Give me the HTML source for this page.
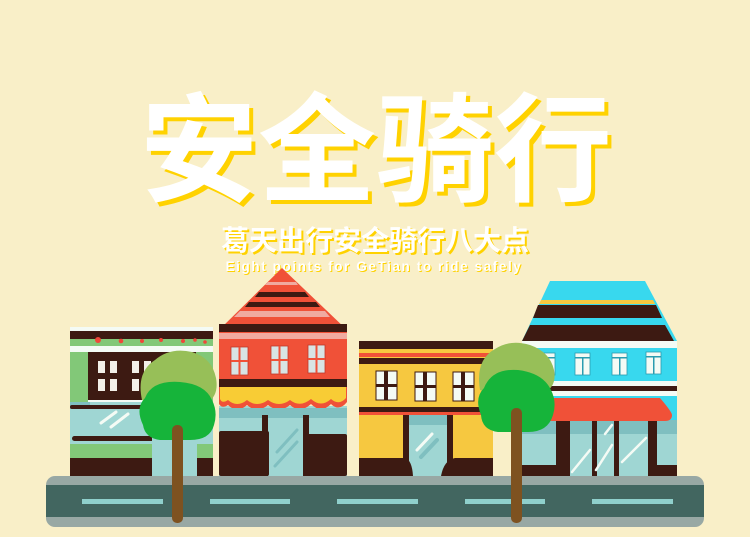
<!DOCTYPE html>
<html><head><meta charset="utf-8">
<style>
html,body{margin:0;padding:0;background:#f9efc8;}
#wrap{position:relative;width:750px;height:537px;overflow:hidden;background:#f9efc8;}
svg{position:absolute;left:0;top:0;}
.t{font-family:"Liberation Sans","Noto Sans CJK SC",sans-serif;font-weight:bold;}
</style></head>
<body>
<div id="wrap">
<svg width="750" height="537" viewBox="0 0 750 537">
  <g class="t" font-size="118" text-anchor="middle">
    <text x="380" y="196" fill="#ffd200">安全骑行</text>
    <text x="376" y="192" fill="#ffffff">安全骑行</text>
  </g>
  <g class="t" font-size="28" text-anchor="middle">
    <text x="377" y="252" fill="#ffd200">葛天出行安全骑行八大点</text>
    <text x="375" y="250" fill="#ffffff">葛天出行安全骑行八大点</text>
  </g>
  <g class="t" font-size="13.5" text-anchor="middle" letter-spacing="1.6">
    <text x="375" y="272" fill="#ffd200">Eight points for GeTian to ride safely</text>
    <text x="374" y="271" fill="#ffffff">Eight points for GeTian to ride safely</text>
  </g>

  <g>
    <rect x="70" y="327" width="143" height="149" fill="#82c878"/>
    <rect x="70" y="327" width="143" height="4" fill="#f4fbf5"/>
    <rect x="70" y="331" width="143" height="8" fill="#3d1a12"/>
    <rect x="70" y="346" width="143" height="6" fill="#f4fbf5"/>
    <g fill="#f0473a">
      <circle cx="98" cy="340" r="3"/><circle cx="121" cy="341" r="2.3"/><circle cx="142" cy="341" r="2"/>
      <circle cx="161" cy="340" r="2"/><circle cx="183" cy="341" r="2"/><circle cx="195" cy="340" r="1.8"/><circle cx="205" cy="342" r="1.8"/>
    </g>
    <rect x="88" y="352" width="108" height="50" fill="#3d1a12"/>
    <g fill="#f3efe8">
      <rect x="98" y="361" width="7" height="12"/><rect x="110" y="361" width="7" height="12"/>
      <rect x="132" y="361" width="7" height="12"/><rect x="144" y="361" width="7" height="12"/>
      <rect x="98" y="379" width="7" height="12"/><rect x="110" y="379" width="7" height="12"/>
      <rect x="132" y="379" width="7" height="12"/><rect x="144" y="379" width="7" height="12"/>
    </g>
    <rect x="88" y="400" width="110" height="5" fill="#f4fbf5"/>
    <rect x="70" y="402" width="143" height="42" fill="#9fd6d3"/>
    <rect x="70" y="402" width="20" height="7" fill="#7fbfc0"/>
    <rect x="70" y="405" width="125" height="4" rx="2" fill="#3d1a12"/>
    <line x1="101" y1="423" x2="116" y2="412" stroke="#f4fbf5" stroke-width="3" stroke-linecap="round"/>
    <line x1="111" y1="427" x2="128" y2="414" stroke="#f4fbf5" stroke-width="3" stroke-linecap="round"/>
    <rect x="72" y="436" width="88" height="5" rx="2.5" fill="#3d1a12"/>
    <rect x="152" y="428" width="45" height="48" fill="#9fd6d3"/>
    <rect x="70" y="458" width="82" height="18" fill="#3d1a12"/>
    <rect x="197" y="458" width="16" height="18" fill="#3d1a12"/>
  </g>

  <g>
    <polygon points="282,268 347,330 219,330" fill="#f05138"/>
    <polygon points="268,282 296,282 298,285 265,285" fill="#f0aaa0"/>
    <polygon points="259,292 305,292 309,297 255,297" fill="#3d1a12"/>
    <polygon points="249,302 316,302 320,307 245,307" fill="#3d1a12"/>
    <polygon points="240,311 325,311 330,317 234,317" fill="#f0aaa0"/>
    <rect x="219" y="324" width="128" height="62" fill="#f05138"/>
    <rect x="219" y="324" width="128" height="8" fill="#3d1a12"/>
    <rect x="219" y="333" width="128" height="6" fill="#f0aaa0"/>
    <g fill="#d8e4e4" stroke="#c0392b" stroke-width="0.8">
      <rect x="231" y="347" width="17" height="28"/>
      <rect x="271" y="346" width="17" height="28"/>
      <rect x="308" y="345" width="17" height="28"/>
    </g>
    <g fill="#f05138">
      <rect x="238.5" y="347" width="2" height="28"/><rect x="231" y="360" width="17" height="2"/>
      <rect x="278.5" y="346" width="2" height="28"/><rect x="271" y="359" width="17" height="2"/>
      <rect x="315.5" y="345" width="2" height="28"/><rect x="308" y="358" width="17" height="2"/>
    </g>
    <rect x="219" y="379" width="128" height="8" fill="#3d1a12"/>
    <rect x="219" y="406" width="128" height="70" fill="#9fd6d3"/>
    <path d="M219,387 H347 V402 Q339,412 331,404 Q321,414 311,404 Q300,414 290,405 Q279,414 268,405 Q257,414 247,405 Q237,414 228,405 Q222,409 219,404 Z" fill="#f05138"/>
    <path d="M220,387 H346 V398 Q339,406 331,399 Q321,408 311,399 Q300,408 290,400 Q279,408 268,400 Q257,408 247,400 Q237,408 228,400 Q222,404 220,399 Z" fill="#f8cc35"/>
    <rect x="219" y="408" width="128" height="10" fill="#7fbfc0"/>
    <rect x="219" y="431" width="50" height="45" rx="2" fill="#3d1a12"/>
    <rect x="262" y="415" width="6" height="61" fill="#3d1a12"/>
    <rect x="303" y="415" width="6" height="61" fill="#3d1a12"/>
    <rect x="304" y="434" width="43" height="42" rx="2" fill="#3d1a12"/>
    <line x1="277" y1="452" x2="297" y2="430" stroke="#7fbfc0" stroke-width="3" stroke-linecap="round"/>
    <line x1="275" y1="466" x2="297" y2="442" stroke="#7fbfc0" stroke-width="3" stroke-linecap="round"/>
  </g>

  <g>
    <rect x="359" y="341" width="134" height="135" fill="#f6c840"/>
    <rect x="359" y="341" width="134" height="8" fill="#3d1a12"/>
    <rect x="359" y="353" width="134" height="4" fill="#f05138"/>
    <rect x="359" y="358" width="134" height="6" fill="#3d1a12"/>
    <g fill="#f4fbf5" stroke="#3d1a12" stroke-width="1">
      <rect x="376" y="371" width="21" height="29"/>
      <rect x="415" y="372" width="21" height="29"/>
      <rect x="453" y="372" width="21" height="29"/>
    </g>
    <g fill="#3d1a12">
      <rect x="384" y="371" width="4" height="29"/><rect x="376" y="384" width="21" height="3"/>
      <rect x="423" y="372" width="4" height="29"/><rect x="415" y="385" width="21" height="3"/>
      <rect x="461" y="372" width="4" height="29"/><rect x="453" y="385" width="21" height="3"/>
    </g>
    <rect x="359" y="407" width="134" height="5" fill="#3d1a12"/>
    <rect x="359" y="412" width="134" height="3" fill="#f05138"/>
    <rect x="408" y="415" width="39" height="61" fill="#9fd6d3"/>
    <rect x="408" y="415" width="39" height="10" fill="#7fbfc0"/>
    <rect x="403" y="415" width="6" height="50" fill="#3d1a12"/>
    <rect x="447" y="415" width="6" height="50" fill="#3d1a12"/>
    <line x1="417" y1="450" x2="432" y2="434" stroke="#f4fbf5" stroke-width="3" stroke-linecap="round"/>
    <line x1="421" y1="457" x2="437" y2="440" stroke="#7fbfc0" stroke-width="4" stroke-linecap="round"/>
    <path d="M359,458 H405 Q412,460 413,476 H359 Z" fill="#3d1a12"/>
    <path d="M493,458 H455 Q444,460 441,476 H493 Z" fill="#3d1a12"/>
  </g>

  <g>
    <polygon points="550,281 645,281 677,341 522,341" fill="#38d8ee"/>
    <polygon points="541,300 653,300 655,304 539,304" fill="#f6c840"/>
    <polygon points="538,305 656,305 662,318 533,318" fill="#3d1a12"/>
    <polygon points="530,325 665,325 674,341 522,341" fill="#3d1a12"/>
    <rect x="522" y="341" width="155" height="135" fill="#38d8ee"/>
    <rect x="522" y="341" width="155" height="7" fill="#f4fbf5"/>
    <g fill="#f4fbf5" stroke="#2a9cb0" stroke-width="0.8">
      <rect x="540" y="353" width="15" height="22"/><rect x="575" y="353" width="15" height="22"/>
      <rect x="612" y="353" width="15" height="22"/><rect x="646" y="352" width="15" height="22"/>
    </g>
    <g fill="#2a9cb0">
      <rect x="540" y="357" width="15" height="1.5"/><rect x="575" y="357" width="15" height="1.5"/>
      <rect x="612" y="357" width="15" height="1.5"/><rect x="646" y="356" width="15" height="1.5"/>
      <rect x="547" y="358" width="1.5" height="17"/><rect x="582" y="358" width="1.5" height="17"/>
      <rect x="619" y="358" width="1.5" height="17"/><rect x="653" y="357" width="1.5" height="17"/>
    </g>
    <rect x="522" y="381" width="155" height="5" fill="#f4fbf5"/>
    <rect x="522" y="386" width="155" height="5" fill="#3d1a12"/>
    <rect x="522" y="391" width="155" height="5" fill="#f4fbf5"/>
    <rect x="522" y="420" width="155" height="56" fill="#9fd6d3"/>
    <rect x="522" y="420" width="155" height="14" fill="#7fbfc0"/>
    <path d="M545,398 H660 Q672,412 672,415 Q672,421 665,421 H545 Z" fill="#f05138"/>
    <g fill="#3d1a12">
      <rect x="556" y="421" width="14" height="55"/>
      <rect x="592" y="421" width="5" height="55"/>
      <rect x="614" y="421" width="5" height="55"/>
      <rect x="648" y="421" width="9" height="55"/>
      <rect x="522" y="465" width="48" height="11"/>
      <rect x="648" y="465" width="29" height="11"/>
    </g>
    <g stroke="#f4fbf5" stroke-width="2.5" stroke-linecap="round">
      <line x1="572" y1="472" x2="590" y2="450"/>
      <line x1="596" y1="470" x2="612" y2="445"/>
      <line x1="605" y1="434" x2="612" y2="425"/>
      <line x1="622" y1="462" x2="646" y2="438"/>
    </g>
  </g>

  <g>
    <rect x="46" y="476" width="658" height="51" rx="9" fill="#98a8a4"/>
    <rect x="46" y="485" width="658" height="32" fill="#426660"/>
    <g fill="#8fd0cc">
      <rect x="82" y="499" width="81" height="5"/>
      <rect x="210" y="499" width="80" height="5"/>
      <rect x="337" y="499" width="81" height="5"/>
      <rect x="465" y="499" width="80" height="5"/>
      <rect x="592" y="499" width="81" height="5"/>
    </g>
  </g>

  <g>
    <path d="M142,400 Q136,372 155,360 Q170,347 192,352 Q212,358 216,378 Q219,395 208,402 L150,402 Z" fill="#97bf58"/>
    <path d="M143,425 Q135,408 145,398 Q152,380 180,382 Q205,384 212,400 Q218,412 214,425 Q210,440 190,440 L160,440 Q145,438 143,425 Z" fill="#16b43a"/>
    <rect x="172" y="425" width="11" height="98" rx="5" fill="#7e5220"/>
  </g>
  <g>
    <path d="M480,390 Q475,360 495,349 Q510,339 530,345 Q550,352 554,370 Q557,386 545,392 L488,392 Z" fill="#97bf58"/>
    <path d="M481,415 Q474,398 484,388 Q492,368 518,370 Q543,373 551,390 Q557,402 553,415 Q548,432 528,432 L498,432 Q482,430 481,415 Z" fill="#16b43a"/>
    <rect x="511" y="408" width="11" height="115" rx="5" fill="#7e5220"/>
  </g>
</svg>
</div>
</body></html>
